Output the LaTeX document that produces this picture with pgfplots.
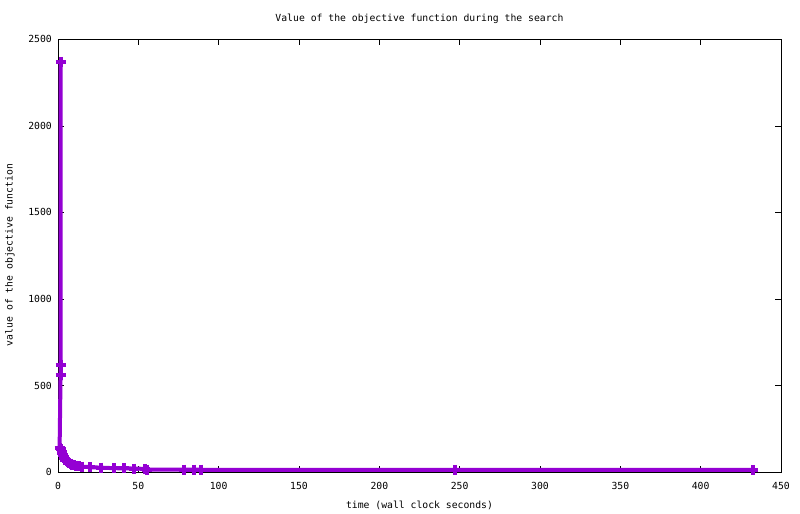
\documentclass[border=0pt]{standalone}
\usepackage{pgfplots}
\pgfplotsset{compat=1.18}
\usepackage{fontspec}
\newfontfamily\gpfont{DejaVu Sans Mono}
\definecolor{gpviolet}{HTML}{9400D3}
\begin{document}
\begin{tikzpicture}
\path[use as bounding box] (0,0) rectangle (800bp,514bp);
\begin{axis}[
  at={(58bp,42bp)}, anchor=south west,
  scale only axis, width=723bp, height=432.7bp,
  xmin=0, xmax=450, ymin=0, ymax=2500,
  xtick={0,50,...,450}, ytick={0,500,...,2500},
  tick align=inside, major tick length=6bp,
  axis line style={line width=0.8bp},
  every tick/.style={black, line width=0.6bp},
  scaled ticks=false,
  /pgf/number format/assume math mode=true,
  /pgf/number format/set thousands separator={},
  tick label style={font=\gpfont\fontsize{9.8}{11}\selectfont},
  xticklabel style={anchor=north, inner sep=0pt, yshift=-10bp},
  yticklabel style={anchor=east, inner sep=0pt, xshift=-6bp},
  clip=false,
]
\addplot[color=gpviolet, line width=4bp, line join=miter, mark=+, mark size=5bp, mark options={line width=4bp}] coordinates {
(1.6,2370) (1.6,620) (1.6,560) (1.0,140) (1.8,130) (2.2,118) (2.6,108) (3.0,98)
(3.5,88) (4.0,80) (4.6,72) (5.3,65) (6.0,58) (7.0,52) (8.0,47) (9.0,43)
(10.0,40) (11.5,37) (13.0,34) (15.0,31) (20.0,28) (27.0,25) (35.0,22)
(41.0,21) (47.0,20) (54.0,18) (55.6,14) (78.4,13) (84.4,13) (88.8,13)
(247.4,12) (432.7,12)
};
\end{axis}
\node[font=\gpfont\fontsize{9.8}{11}\selectfont] at (419.5bp,495bp) {Value of the objective function during the search};
\node[font=\gpfont\fontsize{9.8}{11}\selectfont] at (419.5bp,9bp) {time (wall clock seconds)};
\node[font=\gpfont\fontsize{9.8}{11}\selectfont, rotate=90] at (10bp,259bp) {value of the objective function};
\end{tikzpicture}
\end{document}
